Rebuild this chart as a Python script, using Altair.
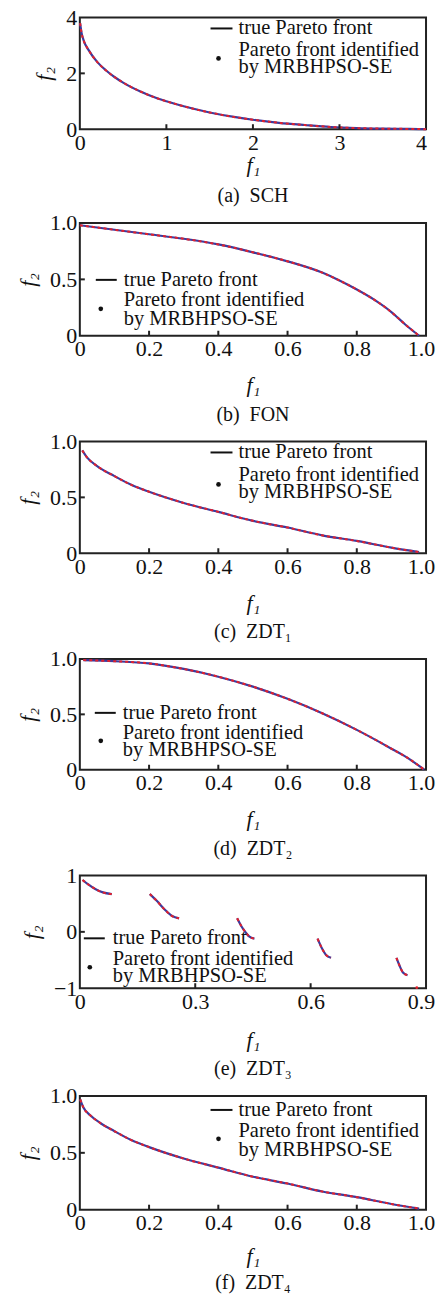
import altair as alt
import pandas as pd

FONT = "Liberation Serif, Times New Roman, serif"
BLUE = "#3b3b9e"
RED = "#e3202b"
FRAME = "#222222"

# ---------------- data ----------------
# (a) SCH
sch_f1 = [0.003, 0.02, 0.05, 0.1, 0.2, 0.3, 0.4, 0.5, 0.7, 0.9, 1.0, 1.2, 1.5, 1.8, 2.0, 2.3, 2.6, 2.9, 3.2, 3.5, 3.8, 4.0]
sch_f2 = [3.80, 3.45, 3.13, 2.84, 2.41, 2.11, 1.87, 1.67, 1.35, 1.10, 1.00, 0.82, 0.60, 0.43, 0.34, 0.23, 0.15, 0.08, 0.04, 0.02, 0.01, 0.00]
# (b) FON
fon_f1 = [0.0, 0.1, 0.2, 0.3, 0.4, 0.5, 0.6, 0.7, 0.75, 0.8, 0.85, 0.9, 0.94, 0.98]
fon_f2 = [0.98, 0.94, 0.90, 0.86, 0.81, 0.74, 0.66, 0.56, 0.49, 0.41, 0.32, 0.21, 0.10, 0.00]
# (c) ZDT1
zdt1_f1 = [0.007, 0.02, 0.05, 0.1, 0.15, 0.2, 0.3, 0.4, 0.5, 0.6, 0.7, 0.8, 0.9, 0.98]
zdt1_f2 = [0.92, 0.86, 0.78, 0.69, 0.61, 0.55, 0.45, 0.37, 0.29, 0.23, 0.16, 0.11, 0.05, 0.01]
# (d) ZDT2
zdt2_f1 = [0.01, 0.1, 0.2, 0.3, 0.4, 0.5, 0.6, 0.7, 0.8, 0.9, 0.95, 0.995]
zdt2_f2 = [0.99, 0.98, 0.96, 0.91, 0.84, 0.75, 0.64, 0.51, 0.36, 0.19, 0.10, 0.00]
# (e) ZDT3 (five disconnected pieces)
zdt3_f1 = [0.007, 0.02, 0.04, 0.06, 0.083,
           0.182, 0.20, 0.22, 0.24, 0.258,
           0.409, 0.42, 0.43, 0.44, 0.454,
           0.618, 0.63, 0.64, 0.653,
           0.823, 0.83, 0.84, 0.852]
zdt3_f2 = [0.92, 0.85, 0.76, 0.70, 0.67,
           0.67, 0.55, 0.40, 0.28, 0.24,
           0.24, 0.10, 0.00, -0.08, -0.12,
           -0.12, -0.30, -0.41, -0.46,
           -0.46, -0.58, -0.72, -0.77]
zdt3_piece = [1] * 5 + [2] * 5 + [3] * 5 + [4] * 4 + [5] * 4
zdt3_out_f1 = [0.876]
zdt3_out_f2 = [-0.99]
# (f) ZDT4
zdt4_f1 = [0.001, 0.01, 0.03, 0.06, 0.1, 0.15, 0.2, 0.3, 0.4, 0.5, 0.6, 0.7, 0.8, 0.9, 0.98]
zdt4_f2 = [0.97, 0.90, 0.83, 0.76, 0.69, 0.61, 0.55, 0.45, 0.37, 0.29, 0.23, 0.16, 0.11, 0.05, 0.01]

LEGEND_LINE = "true Pareto front"
LEGEND_DOT_1 = "Pareto front identified"
LEGEND_DOT_2 = "by MRBHPSO-SE"

NB = "\u00a0\u00a0"
captions = ["(a)" + NB + "SCH", "(b)" + NB + "FON", "(c)" + NB + "ZDT\u2081",
            "(d)" + NB + "ZDT\u2082", "(e)" + NB + "ZDT\u2083", "(f)" + NB + "ZDT\u2084"]

W = 347


def label_expr(fmt):
    return f"datum.value == 0 ? '0' : format(datum.value, '{fmt}')"


def panel(f1, f2, piece, xdom, ydom, xvals, yvals, xfmt, yfmt, caption, leg,
          height, xtitle_pad, cap_offset, out=None):
    df = pd.DataFrame({"f1": f1, "f2": f2, "piece": piece})
    x = alt.X("f1:Q", scale=alt.Scale(domain=xdom, nice=False, zero=False),
              axis=alt.Axis(values=xvals, labelExpr=label_expr(xfmt), title="f\u2081",
                            titlePadding=xtitle_pad,
                            labelOffset={"condition": {"test": f"datum.value == {xdom[1]}", "value": -5},
                                         "value": 0}))
    y = alt.Y("f2:Q", scale=alt.Scale(domain=ydom, nice=False, zero=False),
              axis=alt.Axis(values=yvals, labelExpr=label_expr(yfmt), title="f\u2082"))
    true_line = alt.Chart(df).mark_line(color=BLUE, strokeWidth=2.2, interpolate="monotone").encode(
        x=x, y=y, detail="piece:N")
    found = alt.Chart(df).mark_line(color=RED, strokeWidth=2, strokeDash=[3, 3],
                                    interpolate="monotone").encode(
        x=x, y=y, detail="piece:N")
    layers = [true_line, found]
    if out is not None:
        odf = pd.DataFrame({"f1": out[0], "f2": out[1]})
        layers.append(alt.Chart(odf).mark_circle(color=RED, size=8, opacity=1).encode(x=x, y=y))
    # inward ticks
    xin = pd.DataFrame({"f1": [v for v in xvals if v not in xdom]})
    yin = pd.DataFrame({"f2": [v for v in yvals if v not in ydom]})
    layers.append(alt.Chart(xin).mark_rule(color=FRAME, strokeWidth=2).encode(
        x=x, y=alt.value(height), y2=alt.value(height - 5)))
    layers.append(alt.Chart(yin).mark_rule(color=FRAME, strokeWidth=2).encode(
        y=y, x=alt.value(0), x2=alt.value(5)))
    # legend
    one = pd.DataFrame({"label": [LEGEND_LINE]})
    layers.append(alt.Chart(one).mark_rule(color="#111", strokeWidth=2).encode(
        x=alt.value(leg["lx"][0]), x2=alt.value(leg["lx"][1]), y=alt.value(leg["ly"])))
    layers.append(alt.Chart(one).mark_circle(color="#111", size=22, opacity=1).encode(
        x=alt.value(leg["dot"][0]), y=alt.value(leg["dot"][1])))
    for txt, ty in [(LEGEND_LINE, leg["ly"]), (LEGEND_DOT_1, leg["t2"]), (LEGEND_DOT_2, leg["t3"])]:
        tdf = pd.DataFrame({"label": [txt]})
        layers.append(alt.Chart(tdf).mark_text(align="left", baseline="middle", font=FONT,
                                               fontSize=20.5, color="#111").encode(
            text="label:N", x=alt.value(leg["tx"]), y=alt.value(ty)))
    return alt.layer(*layers).properties(
        width=W, height=height,
        title=alt.TitleParams(caption, orient="bottom", anchor="middle", font=FONT,
                              fontSize=20, fontWeight="normal", color="#111", offset=cap_offset))


leg_tr = lambda ly, t2, t3, dy: {"lx": (131, 153), "ly": ly, "tx": 159, "t2": t2, "t3": t3, "dot": (139, dy)}

pa = panel(sch_f1, sch_f2, [1] * len(sch_f1), [0, 4], [0, 4], [0, 1, 2, 3, 4], [0, 2, 4], "d", "d",
           captions[0], leg_tr(11, 33, 50, 41), 112, 1, 11)
pb = panel(fon_f1, fon_f2, [1] * len(fon_f1), [0, 1], [0, 1], [0, 0.2, 0.4, 0.6, 0.8, 1.0], [0, 0.5, 1.0],
           ".1f", ".1f", captions[1],
           {"lx": (16, 37), "ly": 57, "tx": 44, "t2": 77, "t3": 96, "dot": (21, 86)}, 113, 15, 9)
pc = panel(zdt1_f1, zdt1_f2, [1] * len(zdt1_f1), [0, 1], [0, 1], [0, 0.2, 0.4, 0.6, 0.8, 1.0], [0, 0.5, 1.0],
           ".1f", ".1f", captions[2], leg_tr(11, 34, 51, 43), 112, 15, 9)
pd_ = panel(zdt2_f1, zdt2_f2, [1] * len(zdt2_f1), [0, 1], [0, 1], [0, 0.2, 0.4, 0.6, 0.8, 1.0], [0, 0.5, 1.0],
            ".1f", ".1f", captions[3],
            {"lx": (15, 36), "ly": 54, "tx": 43, "t2": 74, "t3": 91, "dot": (21, 82)}, 111, 15, 9)
pe = panel(zdt3_f1, zdt3_f2, zdt3_piece, [0, 0.9], [-1, 1], [0, 0.3, 0.6, 0.9], [-1, 0, 1],
           ".1f", "d", captions[4],
           {"lx": (4, 25), "ly": 63, "tx": 33, "t2": 84, "t3": 101, "dot": (10, 92)}, 113, 17, 9,
           out=(zdt3_out_f1, zdt3_out_f2))
pf = panel(zdt4_f1, zdt4_f2, [1] * len(zdt4_f1), [0, 1], [0, 1], [0, 0.2, 0.4, 0.6, 0.8, 1.0], [0, 0.5, 1.0],
           ".1f", ".1f", captions[5], leg_tr(14, 35, 54, 43), 114, 12, 6)

chart = alt.vconcat(pa, pb, pc, pd_, pe, pf, spacing=4).properties(
    padding={"top": -4, "left": 7, "right": 0, "bottom": 0}
).configure_view(
    stroke=FRAME, strokeWidth=2
).configure_axis(
    domain=False, ticks=False, grid=False, labelFont=FONT, labelFontSize=22, labelColor="#111",
    labelPadding=3, labelOverlap=False, labelFlush=False,
    titleFont=FONT, titleFontSize=22, titleFontStyle="italic", titleFontWeight="normal",
    titleColor="#111"
).configure_axisY(titlePadding=10)

chart.save("out.html", embed_options={"renderer": "svg", "actions": False})
